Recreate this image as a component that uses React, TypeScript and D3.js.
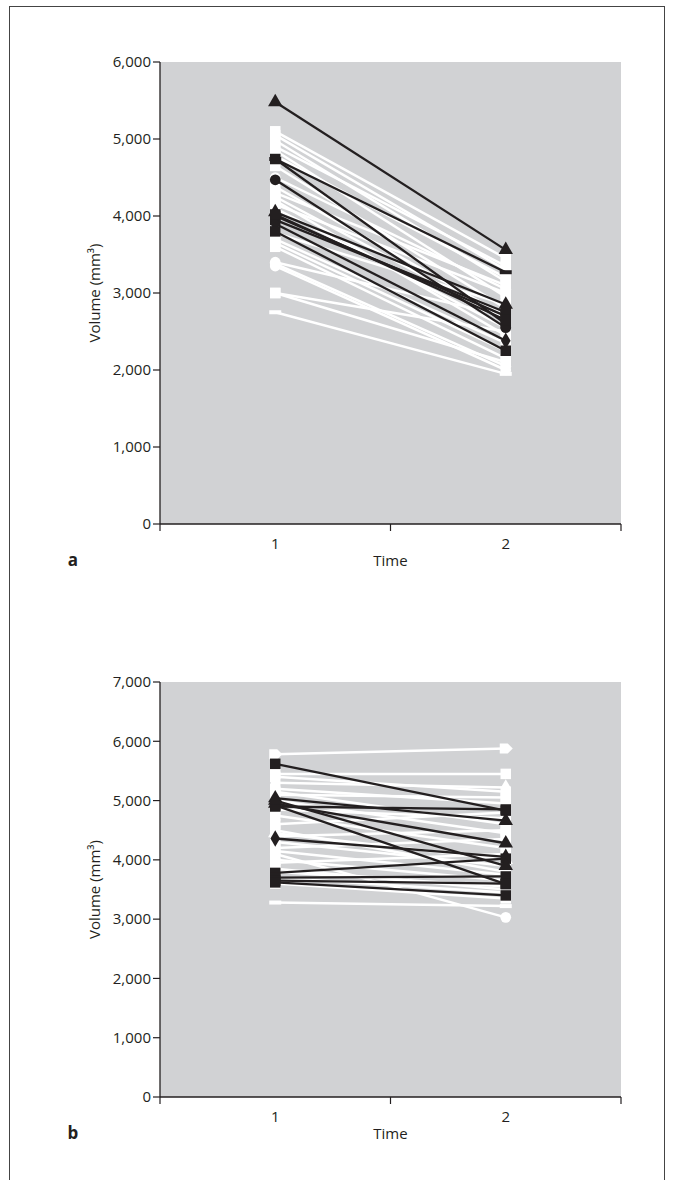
import React from "react";
import * as d3 from "d3";

const categories = ["1", "2"];

// Panel a
const aTicks = [0, 1000, 2000, 3000, 4000, 5000, 6000];
const aWhiteT1 = [5100, 5050, 4980, 4900, 4850, 4780, 4650, 4500, 4380, 4300, 4250, 4200, 4150, 4100, 3780, 3700, 3650, 3600, 3400, 3380, 3000, 3000, 2750, 3350];
const aWhiteT2 = [3450, 3300, 3150, 3350, 2950, 3200, 2800, 3050, 2700, 3100, 2650, 2450, 3000, 2550, 2850, 2350, 2250, 2150, 2700, 2050, 2100, 2500, 1950, 2000];
const aWhiteMk = ["square", "square", "square", "square", "square", "square", "square", "circle", "square", "square", "square", "square", "square", "square", "square", "square", "square", "square", "circle", "circle", "square", "square", "dash", "circle"];
const aBlackT1 = [5480, 4740, 4740, 4470, 4050, 4000, 3950, 3900, 3800, 4020];
const aBlackT2 = [3560, 3270, 2600, 2550, 2850, 2700, 2750, 2380, 2250, 2650];
const aBlackMk = ["triangle", "dash", "square", "circle", "triangle", "square", "square", "diamond", "square", "square"];

// Panel b
const bTicks = [0, 1000, 2000, 3000, 4000, 5000, 6000, 7000];
const bWhiteT1 = [5780, 5450, 5400, 5300, 5200, 5150, 5100, 5000, 4850, 4750, 4600, 4500, 4400, 4300, 4200, 4150, 4100, 4000, 3950, 3850, 3800, 3700, 3600, 3280, 4450];
const bWhiteT2 = [5880, 5450, 5150, 5220, 4950, 4600, 5050, 4450, 4700, 4200, 4800, 3800, 4500, 3900, 4350, 3750, 3030, 3650, 4100, 3500, 3550, 3450, 3350, 3220, 4000];
const bWhiteMk = ["arrow", "square", "square", "diamond", "square", "square", "square", "square", "square", "square", "square", "square", "square", "square", "square", "square", "circle", "square", "square", "square", "square", "square", "square", "dash", "triangle"];
const bBlackT1 = [5620, 5040, 4900, 4950, 4920, 4360, 3780, 3700, 3650, 3620, 5000];
const bBlackT2 = [4830, 4660, 4850, 4280, 3590, 4050, 4020, 3720, 3600, 3400, 3900];
const bBlackMk = ["square", "triangle", "square", "triangle", "square", "diamond", "square", "square", "square", "square", "triangle"];

const BLACK = "#231f20";
const GRAY = "#d1d2d4";
const FONT = "'Open Sans', 'Noto Sans', sans-serif";

function Marker({ type, x, y, fill }: { type: string; x: number; y: number; fill: string }) {
  if (type === "dash") {
    return <rect x={x - 6} y={y - 2} width={12} height={4} fill={fill} />;
  }
  if (type === "arrow") {
    return <path d={`M${x - 6},${y - 5}L${x + 2},${y - 5}L${x + 7},${y}L${x + 2},${y + 5}L${x - 6},${y + 5}Z`} fill={fill} />;
  }
  const sym =
    type === "square" ? d3.symbolSquare : type === "triangle" ? d3.symbolTriangle : type === "diamond" ? d3.symbolDiamond : d3.symbolCircle;
  const size = type === "square" ? 110 : type === "triangle" ? 90 : type === "diamond" ? 80 : 90;
  const p = d3.symbol().type(sym).size(size)();
  return <path d={p || ""} transform={`translate(${x},${y})`} fill={fill} />;
}

function Panel({
  top, bottom, maxV, ticks, wT1, wT2, wMk, kT1, kT2, kMk, letter,
}: {
  top: number; bottom: number; maxV: number; ticks: number[];
  wT1: number[]; wT2: number[]; wMk: string[]; kT1: number[]; kT2: number[]; kMk: string[]; letter: string;
}) {
  const left = 160;
  const right = 621;
  const x = d3.scaleBand<string>().domain(categories).range([left, right]);
  const y = d3.scaleLinear().domain([0, maxV]).range([bottom, top]);
  const x1 = (x("1") as number) + x.bandwidth() / 2;
  const x2 = (x("2") as number) + x.bandwidth() / 2;
  const fmt = d3.format(",");
  const edges = [left, ...categories.map((c) => (x(c) as number) + x.bandwidth())];
  return (
    <g>
      <rect x={left} y={top} width={right - left} height={bottom - top} fill={GRAY} />
      {wT1.map((v, i) => (
        <line key={"wl" + i} x1={x1} y1={y(v)} x2={x2} y2={y(wT2[i])} stroke="#fff" strokeWidth={2.5} />
      ))}
      {wT1.map((v, i) => (
        <g key={"wm" + i}>
          <Marker type={wMk[i]} x={x1} y={y(v)} fill="#fff" />
          <Marker type={wMk[i]} x={x2} y={y(wT2[i])} fill="#fff" />
        </g>
      ))}
      {kT1.map((v, i) => (
        <line key={"kl" + i} x1={x1} y1={y(v)} x2={x2} y2={y(kT2[i])} stroke={BLACK} strokeWidth={2.3} />
      ))}
      {kT1.map((v, i) => (
        <g key={"km" + i}>
          <Marker type={kMk[i]} x={x1} y={y(v)} fill={BLACK} />
          <Marker type={kMk[i]} x={x2} y={y(kT2[i])} fill={BLACK} />
        </g>
      ))}
      <line x1={left} y1={top} x2={left} y2={bottom} stroke={BLACK} strokeWidth={1.3} />
      <line x1={left} y1={bottom} x2={right} y2={bottom} stroke={BLACK} strokeWidth={1.3} />
      {ticks.map((t) => (
        <g key={"yt" + t}>
          <line x1={left - 7} x2={left} y1={y(t)} y2={y(t)} stroke={BLACK} strokeWidth={1.2} />
          <text x={left - 9} y={y(t)} dy="0.35em" textAnchor="end" fontSize={15} fontFamily={FONT} fill={BLACK}>
            {fmt(t)}
          </text>
        </g>
      ))}
      {edges.map((e, i) => (
        <line key={"xt" + i} x1={e} x2={e} y1={bottom} y2={bottom + 7} stroke={BLACK} strokeWidth={1.2} />
      ))}
      {categories.map((c) => (
        <text key={"xl" + c} x={(x(c) as number) + x.bandwidth() / 2} y={bottom + 25} textAnchor="middle" fontSize={15} fontFamily={FONT} fill={BLACK}>
          {c}
        </text>
      ))}
      <text x={(left + right) / 2} y={bottom + 42} textAnchor="middle" fontSize={15} fontFamily={FONT} fill={BLACK}>
        Time
      </text>
      <text x={73} y={bottom + 42} textAnchor="middle" fontSize={17} fontWeight="bold" fontFamily={FONT} fill={BLACK}>
        {letter}
      </text>
      <text transform={`translate(${100},${(top + bottom) / 2}) rotate(-90)`} textAnchor="middle" fontSize={15} fontFamily={FONT} fill={BLACK}>
        Volume (mm³)
      </text>
    </g>
  );
}

export default function App() {
  return (
    <svg width={675} height={1180} style={{ position: "absolute", left: 0, top: 0, background: "#fff" }}>
      <rect x={9.5} y={6.5} width={655} height={1200} fill="none" stroke="#444" strokeWidth={1} />
      <Panel top={62} bottom={524} maxV={6000} ticks={aTicks} wT1={aWhiteT1} wT2={aWhiteT2} wMk={aWhiteMk} kT1={aBlackT1} kT2={aBlackT2} kMk={aBlackMk} letter="a" />
      <Panel top={682} bottom={1097} maxV={7000} ticks={bTicks} wT1={bWhiteT1} wT2={bWhiteT2} wMk={bWhiteMk} kT1={bBlackT1} kT2={bBlackT2} kMk={bBlackMk} letter="b" />
    </svg>
  );
}
